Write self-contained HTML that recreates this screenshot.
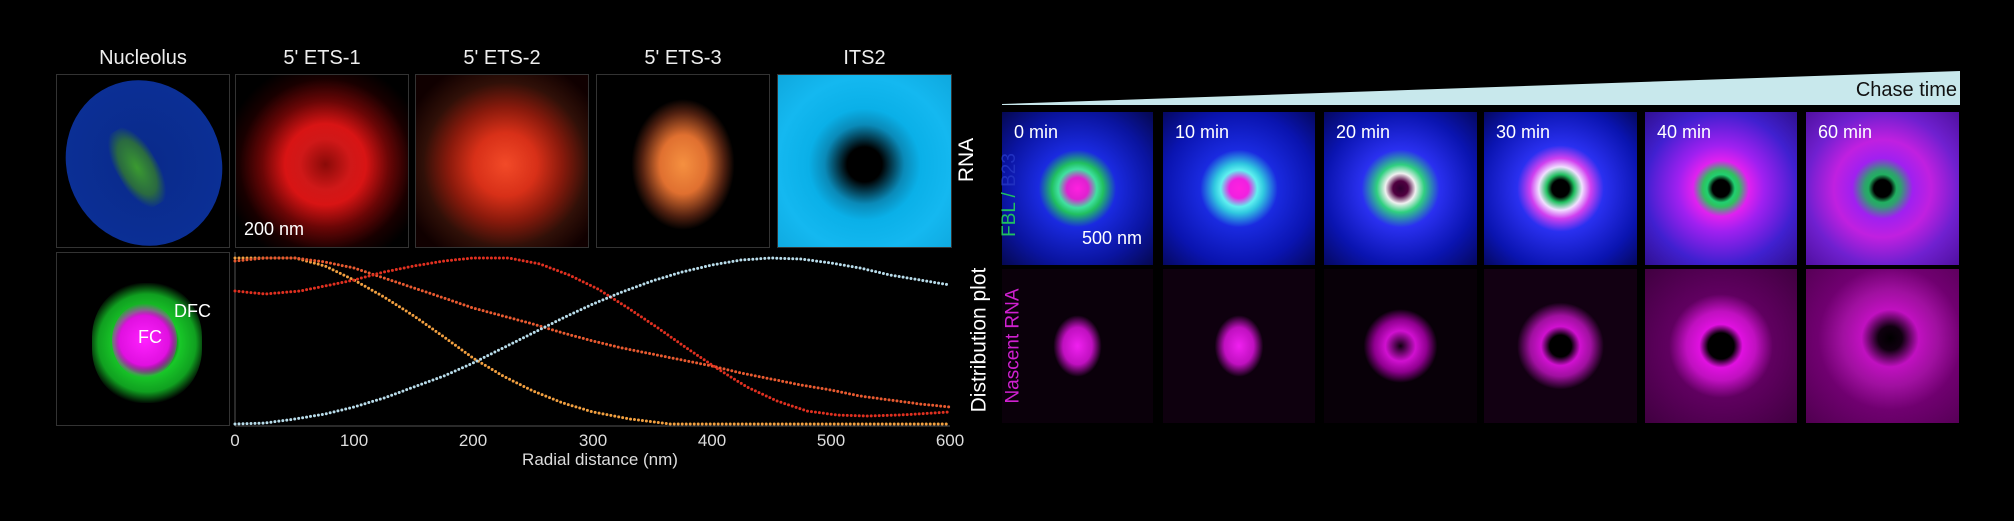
<!DOCTYPE html>
<html><head><meta charset="utf-8"><style>
body{margin:0;background:#000;width:2014px;height:521px;overflow:hidden;position:relative;font-family:"Liberation Sans",sans-serif;color:#fff}
.p{position:absolute;border:1px solid #333;overflow:hidden;box-sizing:border-box}
.t{position:absolute;font-size:20px;text-align:center;color:#eee;white-space:nowrap}
.lab{position:absolute;font-size:18px;color:#fff;white-space:nowrap}
.rot{position:absolute;transform:rotate(-90deg);transform-origin:center;white-space:nowrap;font-size:21px}
</style></head><body>
<div class="t" style="left:56px;width:174px;top:47px">Nucleolus</div>
<div class="t" style="left:235px;width:174px;top:47px">5' ETS-1</div>
<div class="t" style="left:415px;width:174px;top:47px">5' ETS-2</div>
<div class="t" style="left:596px;width:174px;top:47px">5' ETS-3</div>
<div class="t" style="left:777px;width:175px;top:47px">ITS2</div>

<div class="p" style="left:56px;top:74px;width:174px;height:174px;background:#000">
 <div style="position:absolute;left:10px;top:4px;width:154px;height:168px;border-radius:50%;transform:rotate(-25deg);background:radial-gradient(ellipse,#0a2a8a 0%,#0b2f95 70%,#1a4fd8 96%,#000 100%)"></div>
 <div style="position:absolute;left:60px;top:50px;width:40px;height:85px;transform:rotate(-30deg);background:radial-gradient(ellipse,#3a9a30 0%,#2a6a40 50%,transparent 75%)"></div>
</div>
<div class="p" style="left:235px;top:74px;width:174px;height:174px;background:radial-gradient(circle at 52% 52%,#8a0a08 0%,#d01818 20%,#d81414 32%,#6a0606 50%,#180000 68%,#000 82%)">
 <div class="lab" style="left:8px;top:144px">200 nm</div></div>
<div class="p" style="left:415px;top:74px;width:174px;height:174px;background:radial-gradient(circle at 52% 52%,#f24a28 0%,#d83018 25%,#8a1a0c 45%,#301008 65%,#100000 85%)"></div>
<div class="p" style="left:596px;top:74px;width:174px;height:174px;background:radial-gradient(ellipse 30% 38% at 50% 52%,#f59040 0%,#e07030 45%,#502010 80%,#000 100%)"></div>
<div class="p" style="left:777px;top:74px;width:175px;height:174px;background:radial-gradient(circle at 50% 52%,#000 0%,#000 14%,#0a8ab8 32%,#0ab0e8 45%,#14b8f0 70%,#0fa8de 100%)"></div>
<div class="rot" style="left:945px;top:148px">RNA</div>

<div class="p" style="left:56px;top:252px;width:174px;height:174px;background:#000">
 <div style="position:absolute;left:35px;top:30px;width:110px;height:120px;border-radius:45%;background:radial-gradient(circle,transparent 25%,#18c828 40%,#10a020 60%,transparent 75%)"></div>
 <div style="position:absolute;left:55px;top:50px;width:65px;height:75px;border-radius:50%;background:radial-gradient(circle,#ff20ff 0%,#e010e0 50%,transparent 75%)"></div>
 <div class="lab" style="left:117px;top:48px">DFC</div>
 <div class="lab" style="left:81px;top:74px">FC</div>
</div>

<svg style="position:absolute;left:0;top:0" width="2014" height="521">
 <line x1="235" y1="252" x2="235" y2="426" stroke="#555" stroke-width="1"/>
 <line x1="235" y1="426" x2="950" y2="426" stroke="#555" stroke-width="1"/>
 <g fill="none" stroke-width="3" stroke-linecap="round" stroke-dasharray="0 4">
  <polyline stroke="#f2a040" points="235,258 295,258 325,266 354,280 384,297 414,316 444,337 473,358 503,376 533,391 563,403 593,412 630,419 670,424 950,424"/>
  <polyline stroke="#e85a30" points="235,261 265,258 295,258 325,262 354,268 384,278 414,288 444,298 473,308 503,316 533,324 563,333 593,341 622,348 652,354 682,360 712,366 741,373 771,379 801,385 831,390 860,396 890,400 920,404 950,407"/>
  <polyline stroke="#e03020" points="235,291 265,294 300,291 325,286 354,280 384,272 414,266 444,261 473,258 509,258 540,264 569,275 598,289 628,308 658,328 688,349 718,369 747,387 777,401 807,411 837,415 867,416 900,415 950,412"/>
  <polyline stroke="#b8dcea" points="235,424 265,423 295,419 325,414 354,407 384,398 414,387 444,376 473,363 503,348 533,333 563,318 593,304 622,292 652,281 682,272 712,265 741,260 771,258 801,259 831,263 860,268 890,275 920,280 950,285"/>
 </g>
 <g fill="#ddd" font-size="17" font-family="Liberation Sans" text-anchor="middle">
  <text x="235" y="446">0</text><text x="354" y="446">100</text><text x="473" y="446">200</text><text x="593" y="446">300</text><text x="712" y="446">400</text><text x="831" y="446">500</text><text x="950" y="446">600</text>
  <text x="600" y="465">Radial distance (nm)</text>
 </g>
 <polygon points="1002,104 1960,71 1960,105 1002,105" fill="#c8e8ec"/>
 <text x="1957" y="96" font-size="20" text-anchor="end" fill="#111" font-family="Liberation Sans">Chase time</text>
</svg>
<div class="rot" style="left:907px;top:328px">Distribution plot</div>

<div style="position:absolute;left:1002px;top:112px">
 <div class="p" style="left:0;top:0;width:151px;height:153px;border:none;background:radial-gradient(circle at 50% 50%,#ff20e0 0%,#e020d0 10%,#40e0a0 18%,#20c060 24%,#1a2ae0 36%,#0a14a0 70%,#050850 100%)"></div>
 <div class="p" style="left:161px;top:0;width:152px;height:153px;border:none;background:radial-gradient(circle,#ff20e0 0%,#f020e0 9%,#60f0f0 17%,#30c8e0 23%,#1a2ae0 36%,#0a14b0 70%,#050860 100%)"></div>
 <div class="p" style="left:322px;top:0;width:153px;height:153px;border:none;background:radial-gradient(circle,#300030 0%,#500040 7%,#f0f0f0 14%,#30d080 22%,#2a30f0 36%,#0a14b0 70%,#050860 100%)"></div>
 <div class="p" style="left:482px;top:0;width:153px;height:153px;border:none;background:radial-gradient(circle,#000 0%,#000 8%,#20c060 13%,#f0e0ff 20%,#d040f0 28%,#2a30f0 40%,#0a14b0 75%,#050860 100%)"></div>
 <div class="p" style="left:643px;top:0;width:152px;height:153px;border:none;background:radial-gradient(circle,#000 0%,#000 8%,#20d070 13%,#30c060 17%,#e020f0 26%,#a020f0 40%,#4020d0 70%,#301090 100%)"></div>
 <div class="p" style="left:804px;top:0;width:153px;height:153px;border:none;background:radial-gradient(circle,#000 0%,#000 8%,#20b060 13%,#30a070 17%,#a020f0 28%,#c020e0 45%,#7020d0 70%,#5010a0 100%)"></div>
 <div class="lab" style="left:12px;top:10px">0 min</div>
 <div class="lab" style="left:173px;top:10px">10 min</div>
 <div class="lab" style="left:334px;top:10px">20 min</div>
 <div class="lab" style="left:494px;top:10px">30 min</div>
 <div class="lab" style="left:655px;top:10px">40 min</div>
 <div class="lab" style="left:816px;top:10px">60 min</div>
 <div class="lab" style="left:80px;top:116px">500 nm</div>
</div>
<div style="position:absolute;left:1002px;top:269px">
 <div class="p" style="left:0;top:0;width:151px;height:154px;border:none;background:radial-gradient(ellipse 16% 20% at 50% 50%,#f020f0 0%,#c010c0 60%,transparent 100%),#0a000a"></div>
 <div class="p" style="left:161px;top:0;width:152px;height:154px;border:none;background:radial-gradient(ellipse 16% 20% at 50% 50%,#f020f0 0%,#c010c0 60%,transparent 100%),#0e000e"></div>
 <div class="p" style="left:322px;top:0;width:153px;height:154px;border:none;background:radial-gradient(circle at 50% 50%,#100010 0%,#d010d0 14%,#900090 24%,transparent 34%),#080008"></div>
 <div class="p" style="left:482px;top:0;width:153px;height:154px;border:none;background:radial-gradient(circle at 50% 50%,#000 0%,#000 10%,#d010d0 18%,#a010a0 28%,transparent 40%),#120012"></div>
 <div class="p" style="left:643px;top:0;width:152px;height:154px;border:none;background:radial-gradient(circle at 50% 50%,#000 0%,#000 12%,#e010e0 20%,#c010c0 32%,#600060 48%,#400040 100%)"></div>
 <div class="p" style="left:804px;top:0;width:153px;height:154px;border:none;background:radial-gradient(circle at 55% 45%,#000 0%,#100010 10%,#c010c0 24%,#a010a0 40%,#700070 60%,#500050 100%)"></div>
</div>
<div class="rot" style="left:968px;top:184px;color:#20c060;font-size:19px">FBL / <span style="color:#2030c0">B23</span></div>
<div class="rot" style="left:956px;top:335px;color:#d020d0;font-size:19px">Nascent RNA</div>
</body></html>
